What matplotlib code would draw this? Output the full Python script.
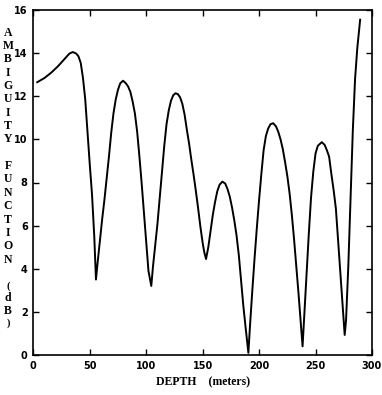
import numpy as np
import matplotlib
matplotlib.use('Agg')
import matplotlib.pyplot as plt

plt.rc('font', family='DejaVu Sans', weight='bold', size=7)

# depth (m) and ambiguity function (dB)
depth = [3.5, 10, 16, 22, 28, 32, 35, 38, 40, 42, 44, 46, 48, 50, 52, 54, 55.5,
         57, 59, 61, 63, 65, 67, 69, 71, 73, 75, 77, 79.5, 82, 84, 86, 88, 90, 92, 94, 96, 98, 100, 102, 104.5,
         106, 108, 110, 112, 114, 116, 118, 120, 122, 124, 126, 128, 130, 132, 134, 136, 138, 140, 142, 144,
         146, 148, 150, 151.5, 153,
         155, 157, 159, 161, 163, 165, 167.5, 170, 172, 174, 176, 178, 180, 182, 184, 186, 188, 190.5,
         192, 194, 196, 198, 200, 202, 204, 206, 208, 210, 212.5, 215, 217, 219, 221, 223, 225, 227, 229,
         231, 233, 235, 237, 238.5,
         240, 242, 244, 246, 248, 250, 252, 255.5, 258, 260, 262, 264, 266, 268, 270, 272, 274, 275.8,
         277, 279, 281, 283, 285, 287, 289.5]
amb = [12.65, 12.85, 13.1, 13.4, 13.75, 13.98, 14.05, 13.98, 13.85, 13.55, 12.85, 11.85, 10.35, 8.85, 7.45, 5.5, 3.5,
       4.3, 5.3, 6.3, 7.2, 8.2, 9.2, 10.3, 11.2, 11.85, 12.3, 12.6, 12.72, 12.6, 12.45, 12.2, 11.75, 11.2, 10.35,
       9.2, 7.95, 6.6, 5.2, 3.9, 3.2,
       4.1, 5.1, 6.1, 7.3, 8.5, 9.7, 10.7, 11.35, 11.8, 12.05, 12.14, 12.1, 11.95, 11.65, 11.15, 10.45, 9.8,
       9.05, 8.35, 7.6, 6.8, 5.95, 5.2, 4.75, 4.45,
       5.0, 5.75, 6.5, 7.1, 7.6, 7.9, 8.04, 7.95, 7.7, 7.35, 6.85, 6.25, 5.55, 4.65, 3.5, 2.3, 1.3, 0.1,
       1.4, 3.0, 4.5, 5.9, 7.2, 8.4, 9.5, 10.15, 10.5, 10.7, 10.75, 10.6, 10.35, 10.0, 9.55, 8.95, 8.3, 7.5,
       6.5, 5.35, 4.1, 2.8, 1.4, 0.4,
       1.8, 3.7, 5.6, 7.3, 8.5, 9.35, 9.7, 9.87, 9.75, 9.5, 9.2, 8.4, 7.65, 6.8, 5.3, 3.8, 2.3, 0.93,
       1.6, 4.1, 7.2, 10.4, 12.8, 14.25, 15.55]

x_ticks = [0, 50, 100, 150, 200, 250, 300]
y_ticks = [0, 2, 4, 6, 8, 10, 12, 14, 16]

W, H = 382, 395
fig = plt.figure(figsize=(W/100, H/100), dpi=100)
ax = fig.add_axes([33.3/W, 1 - 355/H, (372 - 33.3)/W, (355 - 10)/H])

ax.plot(depth, amb, color='black', lw=1.4)

ax.set_xlim(0, 300)
ax.set_ylim(0, 16)
ax.set_xticks(x_ticks)
ax.set_yticks(y_ticks)
ax.tick_params(direction='in', top=True, right=True, length=4, width=1, pad=4)
for s in ax.spines.values():
	s.set_linewidth(1.2)

ax.set_xlabel('DEPTH    (meters)', family='Liberation Serif', fontsize=8.5, weight='bold', labelpad=4)

# vertical stacked y label, one letter at a time
words = [('AMBIGUITY', 33, 13.25), ('FUNCTION', 166, 13.4), ('(dB)', 286, 12.3)]
for word, y0, step in words:
	for i, ch in enumerate(word):
		fig.text(8/W, 1 - (y0 + i*step)/H, ch, ha='center', va='center',
		         family='Liberation Serif', fontsize=8.5 if ch not in '()' else 7.5, weight='bold')

fig.savefig('out.png', dpi=100)
